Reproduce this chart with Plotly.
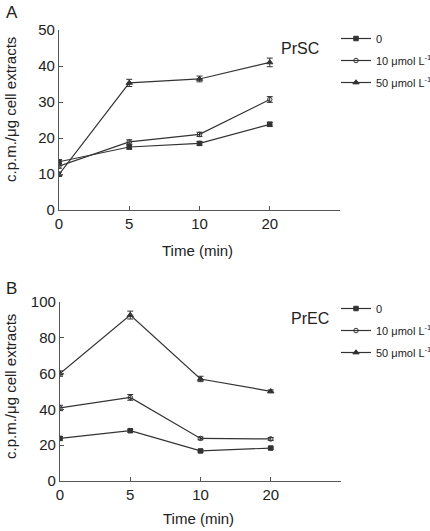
import plotly.graph_objects as go

time_labels = ["0", "5", "10", "20"]
series_names = ["0", "10 μmol L<sup>-1</sup>", "50 μmol L<sup>-1</sup>"]

# Panel A (PrSC)
a_0 = [13.4, 17.5, 18.5, 23.8]
a_10 = [12.2, 18.9, 21.0, 30.7]
a_50 = [9.9, 35.3, 36.4, 41.0]
a_err_0 = [0.6, 0.6, 0.5, 0.6]
a_err_10 = [0.6, 0.6, 0.6, 0.8]
a_err_50 = [0.6, 1.0, 0.8, 1.2]

# Panel B (PrEC)
b_0 = [23.8, 28.1, 16.8, 18.4]
b_10 = [40.8, 46.7, 23.8, 23.5]
b_50 = [60.0, 92.7, 57.0, 50.1]
b_err_0 = [1.0, 0.8, 0.6, 0.6]
b_err_10 = [1.5, 1.6, 0.8, 0.8]
b_err_50 = [1.5, 2.2, 1.5, 0.8]

idx = list(range(len(time_labels)))
LINE = "#333333"
FONT = "Liberation Sans, Arial, sans-serif"
symbols = ["square", "circle-open", "triangle-up"]
sizes = [4.5, 4.5, 5.5]

fig = go.Figure()

def add(vals, errs, k, xa, ya, legend):
    fig.add_trace(go.Scatter(
        x=idx, y=vals, mode="lines+markers", name=series_names[k],
        xaxis=xa, yaxis=ya, legend=legend, legendgroup=legend + str(k),
        line=dict(color=LINE, width=1.2),
        marker=dict(symbol=symbols[k], size=sizes[k], color=LINE,
                    line=dict(color=LINE, width=1)),
        error_y=dict(type="data", array=errs, visible=True, color=LINE,
                     thickness=1, width=3),
    ))

add(a_0, a_err_0, 0, "x", "y", "legend")
add(a_10, a_err_10, 1, "x", "y", "legend")
add(a_50, a_err_50, 2, "x", "y", "legend")
add(b_0, b_err_0, 0, "x2", "y2", "legend2")
add(b_10, b_err_10, 1, "x2", "y2", "legend2")
add(b_50, b_err_50, 2, "x2", "y2", "legend2")

W, H = 430, 531
def fx(px): return px / W
def fy(py): return 1 - py / H

axis_common = dict(showline=True, linecolor="#555555", linewidth=1.2,
                   ticks="inside", ticklen=4, tickcolor="#555555",
                   showgrid=False, zeroline=False, automargin=False,
                   tickfont=dict(size=15, color="#222222", family=FONT))

legend_common = dict(xanchor="left", yanchor="top",
                     font=dict(size=11, family=FONT, color="#222222"),
                     bgcolor="rgba(0,0,0,0)", itemwidth=30, tracegroupgap=3)

fig.update_layout(
    width=W, height=H, margin=dict(l=0, r=0, t=0, b=0, autoexpand=False),
    plot_bgcolor="white", paper_bgcolor="white",
    font=dict(family=FONT, color="#222222"),
    xaxis=dict(domain=[fx(59), fx(340)], anchor="y", range=[0, 4],
               tickvals=[0, 1, 2, 3, 4], ticktext=time_labels + [""],
               **axis_common),
    yaxis=dict(domain=[fy(210), fy(30)], anchor="x", range=[0, 50],
               tickvals=[0, 10, 20, 30, 40, 50], **axis_common),
    xaxis2=dict(domain=[fx(60), fx(341)], anchor="y2", range=[0, 4],
                tickvals=[0, 1, 2, 3, 4], ticktext=time_labels + [""],
                **axis_common),
    yaxis2=dict(domain=[fy(481), fy(302)], anchor="x2", range=[0, 100],
                tickvals=[0, 20, 40, 60, 80, 100], **axis_common),
    legend=dict(x=fx(336), y=fy(24), **legend_common),
    legend2=dict(x=fx(336), y=fy(294), **legend_common),
    showlegend=True,
)

ann = [
    dict(text="A", x=fx(4), y=fy(12), xanchor="left", font=dict(size=17)),
    dict(text="B", x=fx(4), y=fy(288), xanchor="left", font=dict(size=17)),
    dict(text="PrSC", x=fx(300), y=fy(48), font=dict(size=16)),
    dict(text="PrEC", x=fx(310), y=fy(318), font=dict(size=16)),
    dict(text="c.p.m./μg cell extracts", x=fx(11), y=fy(110), textangle=-90, font=dict(size=15)),
    dict(text="c.p.m./μg cell extracts", x=fx(11), y=fy(387), textangle=-90, font=dict(size=15)),
    dict(text="Time (min)", x=fx(197), y=fy(250), font=dict(size=15)),
    dict(text="Time (min)", x=fx(198), y=fy(518), font=dict(size=15)),
]
for a in ann:
    a.update(xref="paper", yref="paper", showarrow=False)
    a.setdefault("xanchor", "center")
    a["yanchor"] = "middle"
    a["font"].update(family=FONT, color="#222222")
fig.update_layout(annotations=ann)

fig.write_html("out.html", config={"displayModeBar": False},
               post_script="document.body.style.margin='0';document.body.style.overflow='hidden';")
